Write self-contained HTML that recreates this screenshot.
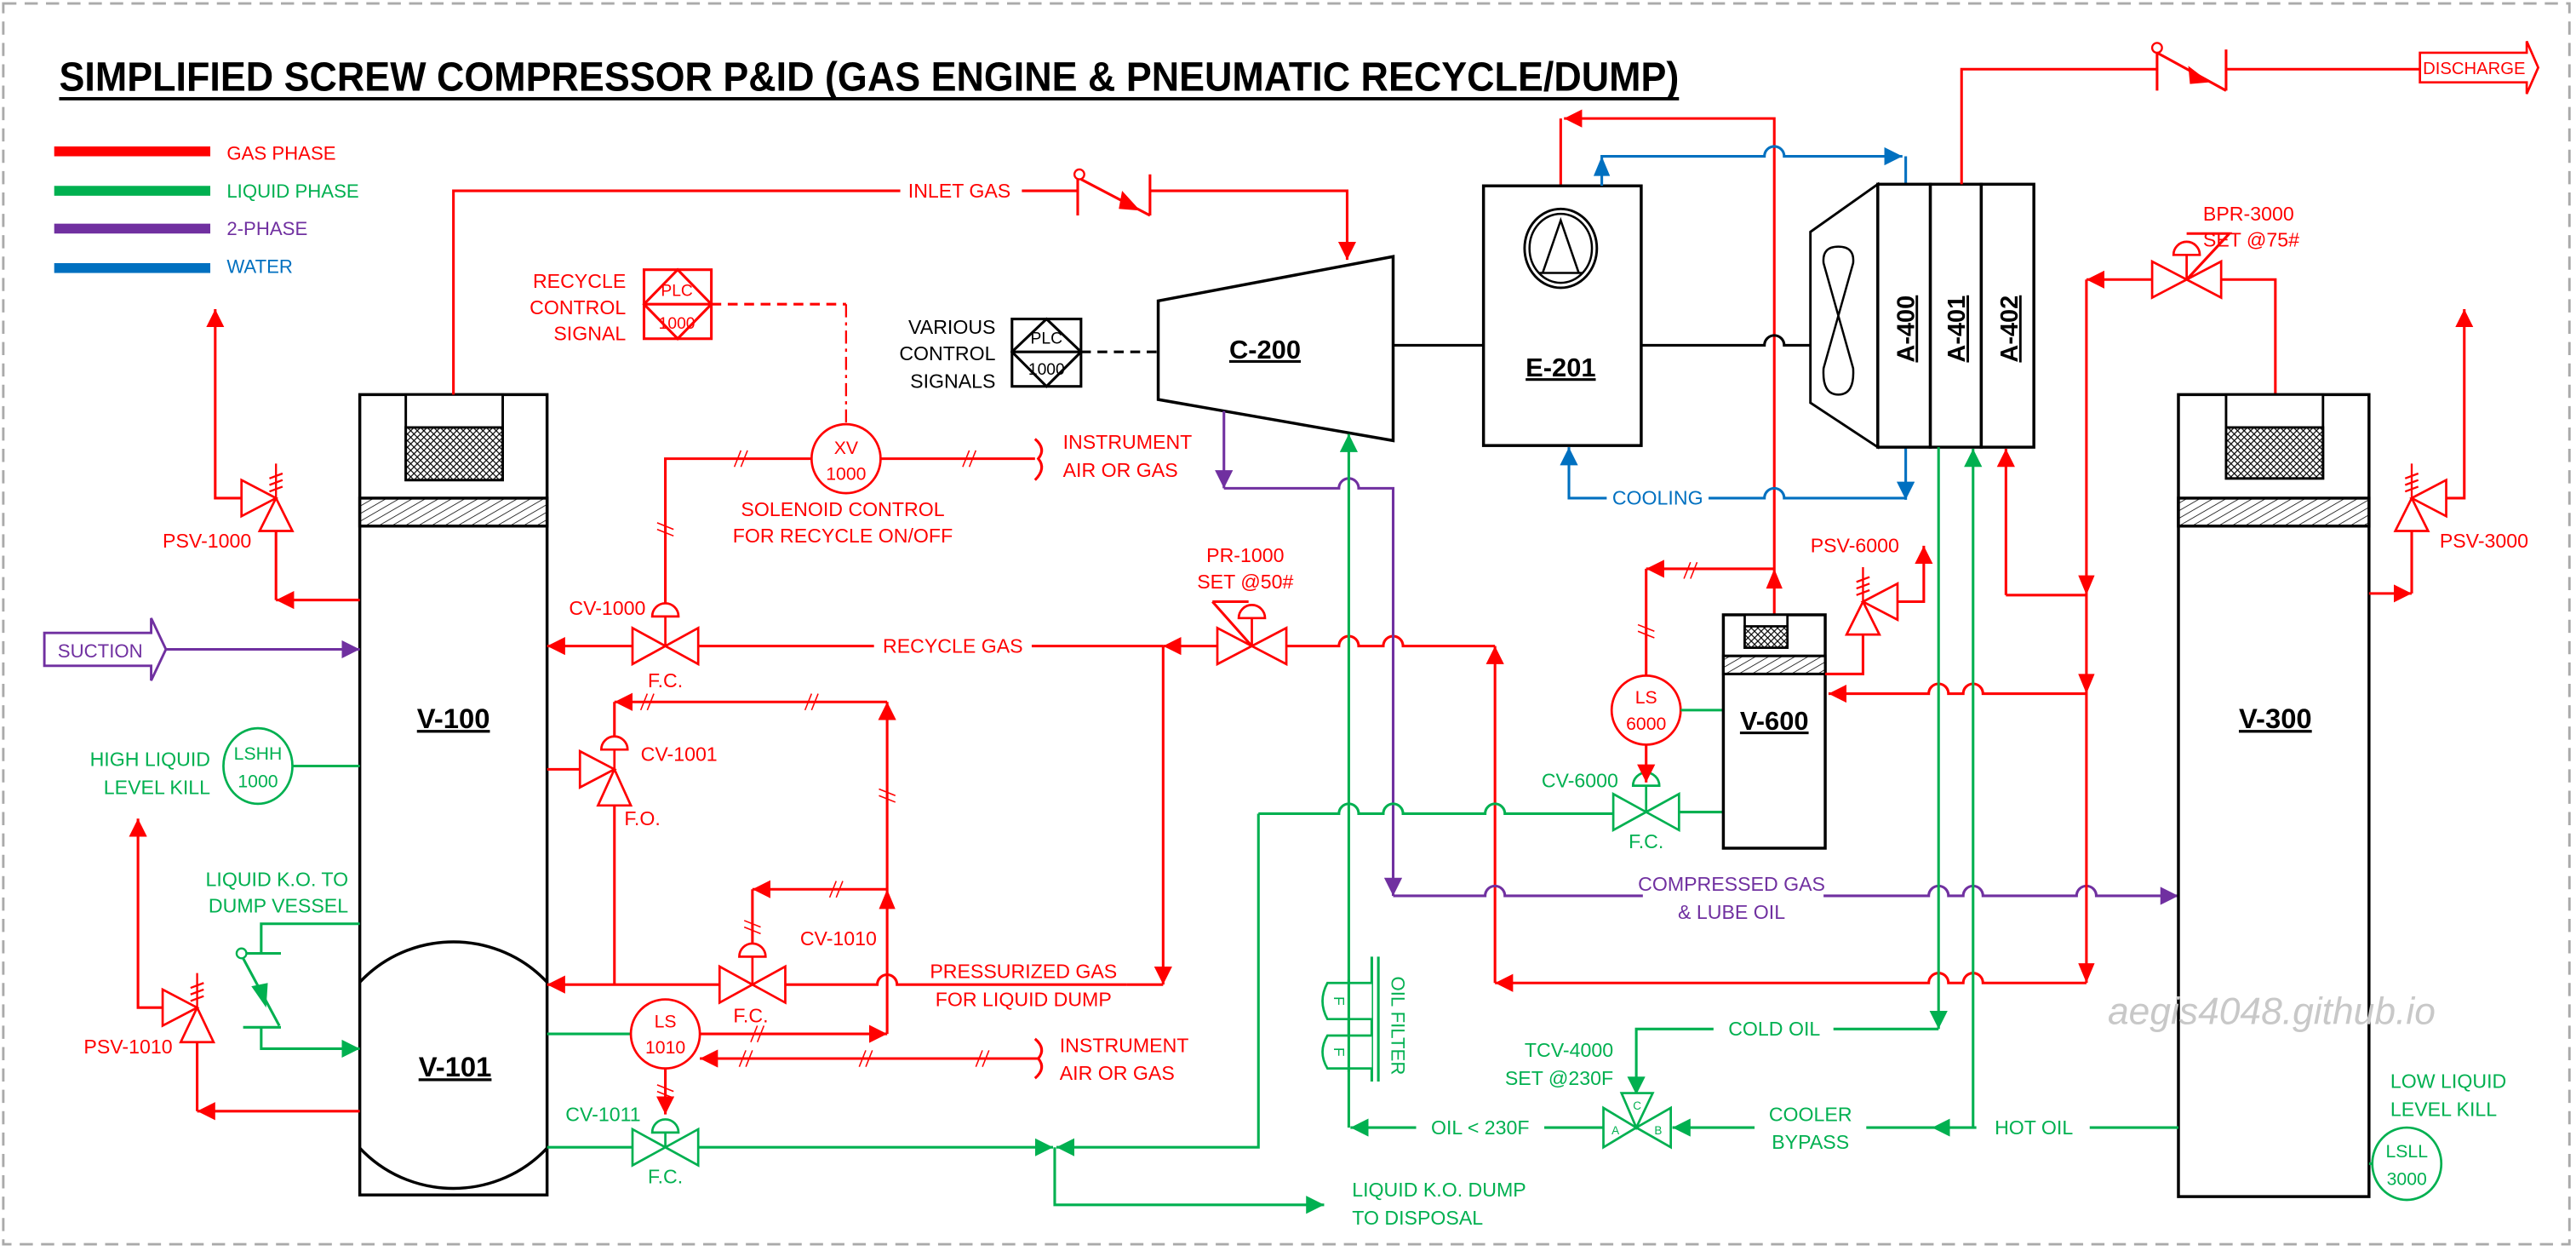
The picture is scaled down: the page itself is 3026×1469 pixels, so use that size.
<!DOCTYPE html>
<html><head><meta charset="utf-8"><style>
html,body{margin:0;padding:0;background:#fff}
svg{display:block}
text{font-family:"Liberation Sans",Arial,sans-serif}
.r{fill:#f00}.g{fill:#00b050}.p{fill:#7030a0}.b{fill:#0070c0}.k{fill:#000}
.lr{stroke:#f00;stroke-width:1.6;fill:none}
.lg{stroke:#00b050;stroke-width:1.6;fill:none}
.lp{stroke:#7030a0;stroke-width:1.6;fill:none}
.lb{stroke:#0070c0;stroke-width:1.6;fill:none}
.lk{stroke:#000;stroke-width:1.6;fill:none}
.vr{stroke:#f00;stroke-width:1.4;fill:#fff}
.vg{stroke:#00b050;stroke-width:1.4;fill:#fff}
.ves{stroke:#000;stroke-width:1.8;fill:#fff}
.lbl{font-weight:bold;text-decoration:underline}
.m{text-anchor:middle}.e{text-anchor:end}
</style></head><body>
<svg width="3026" height="1469" viewBox="0 0 1568 761" xmlns="http://www.w3.org/2000/svg" font-size="12">
<defs>
<marker id="mr" viewBox="0 0 10 10" refX="10" refY="5" markerWidth="11" markerHeight="11" markerUnits="userSpaceOnUse" orient="auto"><path d="M0,0L10,5L0,10z" fill="#f00"/></marker>
<marker id="mg" viewBox="0 0 10 10" refX="10" refY="5" markerWidth="11" markerHeight="11" markerUnits="userSpaceOnUse" orient="auto"><path d="M0,0L10,5L0,10z" fill="#00b050"/></marker>
<marker id="mp" viewBox="0 0 10 10" refX="10" refY="5" markerWidth="11" markerHeight="11" markerUnits="userSpaceOnUse" orient="auto"><path d="M0,0L10,5L0,10z" fill="#7030a0"/></marker>
<marker id="mb" viewBox="0 0 10 10" refX="10" refY="5" markerWidth="11" markerHeight="11" markerUnits="userSpaceOnUse" orient="auto"><path d="M0,0L10,5L0,10z" fill="#0070c0"/></marker>
<pattern id="dh" width="4" height="4" patternUnits="userSpaceOnUse" patternTransform="rotate(60)"><rect width="4" height="4" fill="#fff"/><line x1="0" y1="0" x2="0" y2="4" stroke="#000" stroke-width="0.8"/></pattern>
<pattern id="xh" width="4" height="4" patternUnits="userSpaceOnUse"><rect width="4" height="4" fill="#fff"/><path d="M0,0L4,4M4,0L0,4" stroke="#000" stroke-width="0.6"/></pattern>
<clipPath id="c100"><rect x="219" y="240" width="114" height="487"/></clipPath>
</defs>
<rect width="1568" height="761" fill="#fff"/>
<rect x="2" y="2" width="1562" height="755" fill="none" stroke="#aaa" stroke-width="1.5" stroke-dasharray="8 5"/>

<!-- Title -->
<text x="36" y="55" font-size="25" font-weight="bold" textLength="986" lengthAdjust="spacingAndGlyphs">SIMPLIFIED SCREW COMPRESSOR P&amp;ID  (GAS ENGINE &amp; PNEUMATIC RECYCLE/DUMP)</text>
<line x1="36" y1="60" x2="1022" y2="60" stroke="#000" stroke-width="2"/>

<!-- Legend -->
<rect x="33" y="89" width="95" height="6" fill="#f00"/><text x="138" y="97" class="r" font-size="11.5">GAS PHASE</text>
<rect x="33" y="113" width="95" height="6" fill="#00b050"/><text x="138" y="120" class="g" font-size="11.5">LIQUID PHASE</text>
<rect x="33" y="136" width="95" height="6" fill="#7030a0"/><text x="138" y="143" class="p" font-size="11.5">2-PHASE</text>
<rect x="33" y="160" width="95" height="6" fill="#0070c0"/><text x="138" y="166" class="b" font-size="11.5">WATER</text>

<!-- V-100 / V-101 -->
<rect x="219" y="240" width="114" height="487" class="ves"/>
<rect x="247" y="240" width="59" height="52" fill="#fff" stroke="#000" stroke-width="1.5"/>
<rect x="247" y="260" width="59" height="32" fill="url(#xh)" stroke="#000" stroke-width="1.5"/>
<rect x="219" y="303" width="114" height="17" fill="url(#dh)" stroke="#000" stroke-width="1.8"/>
<ellipse cx="276" cy="648" rx="77" ry="75" fill="none" stroke="#000" stroke-width="1.8" clip-path="url(#c100)"/>
<text x="276" y="443" class="lbl m" font-size="17">V-100</text>
<text x="277" y="655" class="lbl m" font-size="17">V-101</text>

<!-- Inlet gas -->
<path d="M276,240V116H548" class="lr"/>
<text x="584" y="120" class="r m">INLET GAS</text>
<path d="M622,116H656M700,116H820V158" class="lr" marker-end="url(#mr)"/>
<path d="M656,104V131M700,106V131M658,109L700,131" class="lr"/>
<circle cx="657" cy="106" r="3" fill="#fff" stroke="#f00" stroke-width="1.2"/>
<polygon points="683,116 694,128 681,127" fill="#f00"/>

<!-- C-200 -->
<polygon points="705,183 848,156 848,268 705,243" fill="#fff" stroke="#000" stroke-width="1.8"/>
<text x="770" y="218" class="lbl m" font-size="16">C-200</text>
<rect x="616" y="194" width="42" height="41" fill="#fff" stroke="#000" stroke-width="1.6"/>
<path d="M637,194L658,214L637,235L616,214ZM616,214H658" class="lk" stroke-width="1.2"/>
<text x="637" y="209" class="m" font-size="10">PLC</text><text x="637" y="228" class="m" font-size="10">1000</text>
<path d="M658,214H705" stroke="#000" stroke-width="1.6" stroke-dasharray="6 4"/>
<text x="606" y="203" class="e">VARIOUS</text><text x="606" y="219" class="e">CONTROL</text><text x="606" y="236" class="e">SIGNALS</text>

<!-- Recycle PLC -->
<rect x="392" y="164" width="41" height="42" fill="#fff" stroke="#f00" stroke-width="1.6"/>
<path d="M412.5,164L433,185L412.5,206L392,185ZM392,185H433" class="lr" stroke-width="1.2"/>
<text x="412" y="180" class="r m" font-size="10">PLC</text><text x="412" y="200" class="r m" font-size="10">1000</text>
<text x="381" y="175" class="r e">RECYCLE</text><text x="381" y="191" class="r e">CONTROL</text><text x="381" y="207" class="r e">SIGNAL</text>
<path d="M433,185H515" stroke="#f00" stroke-width="1.6" stroke-dasharray="6 4" fill="none"/>
<path d="M515,185V258" stroke="#f00" stroke-width="1.2" stroke-dasharray="8 3 2 3" fill="none"/>

<!-- XV 1000 -->
<circle cx="515" cy="279" r="21" class="vr"/>
<text x="515" y="276" class="r m" font-size="11">XV</text><text x="515" y="292" class="r m" font-size="11">1000</text>
<path d="M494,279H405V375" class="lr"/>
<path d="M536,279H630" class="lr"/>
<path d="M630,267Q637,273 632,279Q637,285 630,292" class="lr" stroke-width="1.2"/>
<text x="647" y="273" class="r">INSTRUMENT</text><text x="647" y="290" class="r">AIR OR GAS</text>
<text x="513" y="314" class="r m">SOLENOID CONTROL</text><text x="513" y="330" class="r m">FOR RECYCLE ON/OFF</text>
<path d="M447,284l4,-10M451,284l4,-10M586,284l4,-10M590,284l4,-10M400,318l10,4M400,322l10,4" stroke="#f00" stroke-width="0.8"/>

<!-- Recycle gas line -->
<path d="M385,393H333" class="lr" marker-end="url(#mr)"/>
<path d="M425,393H532" class="lr"/>
<text x="580" y="397" class="r m">RECYCLE GAS</text>
<path d="M741,393H708" class="lr" marker-end="url(#mr)"/>
<path d="M708,393H628" class="lr"/>
<path d="M708,393V599" class="lr" marker-end="url(#mr)"/>
<path d="M708,599H686" class="lr"/>
<!-- CV-1000 -->
<path d="M385,382L425,404V382L385,404Z" class="vr"/>
<path d="M405,393V375M397,375A8,8 0 0 1 413,375Z" class="vr"/>
<text x="393" y="374" class="r e">CV-1000</text>
<text x="405" y="418" class="r m">F.C.</text>
<!-- PR-1000 -->
<path d="M741,382L783,404V382L741,404Z" class="vr"/>
<path d="M762,393V376M754,376A8,8 0 0 1 770,376Z" class="vr"/>
<path d="M738,366H760M738,366L762,393" class="lr" stroke-width="1.2"/>
<text x="758" y="342" class="r m">PR-1000</text><text x="758" y="358" class="r m">SET @50#</text>
<path d="M783,393H815a6,6 0 0 1 12,0H842a6,6 0 0 1 12,0H910" class="lr"/>
<path d="M910,598V393" class="lr" marker-end="url(#mr)"/>

<!-- CV-1001 angle valve -->
<path d="M333,468H353" class="lr"/>
<polygon points="353,457 374,468 353,479" class="vr"/>
<polygon points="374,468 364,490 384,490" class="vr"/>
<path d="M374,468V456M366,456A8,8 0 0 1 382,456Z" class="vr"/>
<path d="M374,490V599" class="lr"/>
<text x="390" y="463" class="r">CV-1001</text>
<text x="380" y="502" class="r">F.O.</text>
<path d="M540,427H374" class="lr" marker-end="url(#mr)"/>
<path d="M374,427V448" class="lr"/>
<path d="M540,629V427" class="lr" marker-end="url(#mr)"/>
<polygon points="540,541 535,553 545,553" fill="#f00"/>
<path d="M540,541H458" class="lr" marker-end="url(#mr)"/>
<path d="M458,541V574" class="lr"/>
<path d="M390,432l4,-10M394,432l4,-10M490,432l4,-10M494,432l4,-10M535,480l10,4M535,484l10,4M505,546l4,-10M509,546l4,-10M453,560l10,4M453,564l10,4" stroke="#f00" stroke-width="0.8"/>

<!-- Pressurized gas line -->
<path d="M686,599H546a6,6 0 0 0 -12,0H478" class="lr"/>
<path d="M438,599H333" class="lr" marker-end="url(#mr)"/>
<path d="M438,588L478,610V588L438,610Z" class="vr"/>
<path d="M458,599V582M450,582A8,8 0 0 1 466,582Z" class="vr"/>
<text x="487" y="575" class="r">CV-1010</text>
<text x="457" y="622" class="r m">F.C.</text>
<text x="623" y="595" class="r m">PRESSURIZED GAS</text><text x="623" y="612" class="r m">FOR LIQUID DUMP</text>

<!-- LS 1010 -->
<path d="M333,629H384" class="lg"/>
<circle cx="405" cy="629" r="21" class="vr"/>
<text x="405" y="625" class="r m" font-size="11">LS</text><text x="405" y="641" class="r m" font-size="11">1010</text>
<path d="M426,629H540" class="lr" marker-end="url(#mr)"/>
<path d="M632,644H426" class="lr" marker-end="url(#mr)"/>
<path d="M630,632Q637,638 632,644Q637,650 630,656" class="lr" stroke-width="1.2"/>
<text x="645" y="640" class="r">INSTRUMENT</text><text x="645" y="657" class="r">AIR OR GAS</text>
<path d="M405,650V678" class="lr" marker-end="url(#mr)"/>
<path d="M457,634l4,-10M461,634l4,-10M450,649l4,-10M454,649l4,-10M523,649l4,-10M527,649l4,-10M594,649l4,-10M598,649l4,-10M400,660l10,4M400,664l10,4" stroke="#f00" stroke-width="0.8"/>
<!-- CV-1011 -->
<path d="M385,687L425,709V687L385,709Z" class="vg"/>
<path d="M405,698V689M397,689A8,8 0 0 1 413,689Z" class="vg"/>
<text x="390" y="682" class="g e">CV-1011</text>
<text x="405" y="720" class="g m">F.C.</text>
<path d="M333,698H385" class="lg"/>
<path d="M425,698H641" class="lg" marker-end="url(#mg)"/>
<path d="M766,495V698H643" class="lg" marker-end="url(#mg)"/>
<path d="M642,698V733H806" class="lg" marker-end="url(#mg)"/>
<text x="823" y="728" class="g">LIQUID K.O. DUMP</text><text x="823" y="745" class="g">TO DISPOSAL</text>

<!-- LSHH -->
<path d="M178,466H219" class="lg"/>
<ellipse cx="157" cy="466" rx="21" ry="23" class="vg"/>
<text x="157" y="462" class="g m" font-size="11">LSHH</text><text x="157" y="479" class="g m" font-size="11">1000</text>
<text x="128" y="466" class="g e">HIGH LIQUID</text><text x="128" y="483" class="g e">LEVEL KILL</text>

<!-- PSV-1000 -->
<polygon points="147,292 168,303 147,314" class="vr"/>
<polygon points="168,303 158,323 178,323" class="vr"/>
<path d="M168,303V282M164,291l8,-3M164,295l8,-3M164,299l8,-3" stroke="#f00" stroke-width="1.2"/>
<path d="M147,303H131V188" class="lr" marker-end="url(#mr)"/>
<path d="M219,365H168" class="lr" marker-end="url(#mr)"/>
<path d="M168,365V323" class="lr"/>
<text x="153" y="333" class="r e">PSV-1000</text>

<!-- PSV-1010 -->
<polygon points="99,602 120,613 99,624" class="vr"/>
<polygon points="120,613 110,634 130,634" class="vr"/>
<path d="M120,613V592M116,601l8,-3M116,605l8,-3M116,609l8,-3" stroke="#f00" stroke-width="1.2"/>
<path d="M99,613H84V498" class="lr" marker-end="url(#mr)"/>
<path d="M219,676H120" class="lr" marker-end="url(#mr)"/>
<path d="M120,676V634" class="lr"/>
<text x="78" y="641" class="r m">PSV-1010</text>

<!-- Liquid KO dump switch -->
<path d="M219,562H159V580M148,580H171" class="lg"/>
<circle cx="147" cy="580" r="3" fill="#fff" stroke="#00b050" stroke-width="1.2"/>
<path d="M148,583L170,624M148,625H171" class="lg"/>
<polygon points="153,600 162,613 163,598" fill="#00b050"/>
<path d="M159,625V638H219" class="lg" marker-end="url(#mg)"/>
<text x="212" y="539" class="g e">LIQUID K.O. TO</text><text x="212" y="555" class="g e">DUMP VESSEL</text>

<!-- Suction -->
<polygon points="27,385 92,385 92,376 101,395 92,414 92,405 27,405" fill="#fff" stroke="#7030a0" stroke-width="1.5"/>
<text x="61" y="400" class="p m" font-size="11.5">SUCTION</text>
<path d="M101,395H219" class="lp" marker-end="url(#mp)"/>

<!-- Compressor inlet/outlet -->
<path d="M745,250V297" class="lp" marker-end="url(#mp)"/>
<path d="M745,297H815a6,6 0 0 1 12,0H848V545" class="lp" marker-end="url(#mp)"/>
<path d="M848,545H904a6,6 0 0 1 12,0H1000" class="lp"/>
<path d="M1110,545H1174a6,6 0 0 1 12,0H1195a6,6 0 0 1 12,0H1264a6,6 0 0 1 12,0H1326" class="lp" marker-end="url(#mp)"/>
<text x="1054" y="542" class="p m">COMPRESSED GAS</text><text x="1054" y="559" class="p m">&amp; LUBE OIL</text>
<path d="M821,686V264" class="lg" marker-end="url(#mg)"/>

<!-- Green 495 line -->
<path d="M766,495H815a6,6 0 0 1 12,0H842a6,6 0 0 1 12,0H904a6,6 0 0 1 12,0H982" class="lg"/>
<path d="M982,483L1022,505V483L982,505Z" class="vg"/>
<path d="M1002,494V478M994,478A8,8 0 0 1 1010,478Z" class="vg"/>
<path d="M1022,494H1049" class="lg"/>
<text x="985" y="479" class="g e">CV-6000</text>
<text x="1002" y="516" class="g m">F.C.</text>

<!-- LS 6000 -->
<circle cx="1002" cy="432" r="21" class="vr"/>
<text x="1002" y="428" class="r m" font-size="11">LS</text><text x="1002" y="444" class="r m" font-size="11">6000</text>
<path d="M1023,432H1049" class="lg"/>
<path d="M1002,453V476" class="lr" marker-end="url(#mr)"/>
<path d="M1080,346H1002" class="lr" marker-end="url(#mr)"/>
<path d="M1002,346V411" class="lr"/>
<path d="M1025,352l4,-10M1029,352l4,-10M997,380l10,4M997,384l10,4" stroke="#f00" stroke-width="0.8"/>

<!-- Red 1080 -->
<path d="M1080,374V72H952" class="lr" marker-end="url(#mr)"/>
<path d="M950,72V113" class="lr"/>
<polygon points="1080,346 1075,358 1085,358" fill="#f00"/>

<!-- E-201 -->
<rect x="903" y="113" width="96" height="158" class="ves"/>
<ellipse cx="950" cy="151" rx="22" ry="24" fill="none" stroke="#000" stroke-width="1.5"/>
<ellipse cx="950" cy="151" rx="19" ry="21" fill="none" stroke="#000" stroke-width="1.3"/>
<path d="M950,134L939,166H961ZM937,166H963" fill="none" stroke="#000" stroke-width="1.3"/>
<text x="950" y="229" class="lbl m" font-size="16">E-201</text>
<path d="M848,210H903" class="lk"/>
<path d="M999,210H1074a6,6 0 0 1 12,0H1102" class="lk"/>

<!-- Blue -->
<path d="M975,113V95H1074a6,6 0 0 1 12,0H1158" class="lb" marker-end="url(#mb)"/>
<path d="M1160,95V112" class="lb"/>
<polygon points="975,95 970,107 980,107" fill="#0070c0"/>
<path d="M1160,272V304" class="lb" marker-end="url(#mb)"/>
<path d="M1160,303H1086a6,6 0 0 0 -12,0H1040" class="lb"/>
<text x="1009" y="307" class="b m">COOLING</text>
<path d="M978,303H955V272" class="lb" marker-end="url(#mb)"/>

<!-- A-400 cooler -->
<polygon points="1143,112 1102,141 1102,245 1143,272" fill="#fff" stroke="#000" stroke-width="1.5"/>
<path d="M1119,192L1110,160Q1109,150 1119,150Q1129,150 1128,160ZM1119,192L1110,224Q1109,240 1119,240Q1129,240 1128,224Z" fill="none" stroke="#000" stroke-width="1.3"/>
<rect x="1143" y="112" width="32" height="160" class="ves"/>
<rect x="1175" y="112" width="31" height="160" class="ves"/>
<rect x="1206" y="112" width="32" height="160" class="ves"/>
<text transform="translate(1165,200) rotate(-90)" class="m" font-size="15" font-weight="bold" text-decoration="underline">A-400</text>
<text transform="translate(1196,200) rotate(-90)" class="m" font-size="15" font-weight="bold" text-decoration="underline">A-401</text>
<text transform="translate(1228,200) rotate(-90)" class="m" font-size="15" font-weight="bold" text-decoration="underline">A-402</text>

<!-- Discharge -->
<path d="M1194,112V42H1313M1355,42H1473" class="lr"/>
<path d="M1313,30V55M1355,30V55M1313,32L1355,55" class="lr"/>
<circle cx="1313" cy="29" r="3" fill="#fff" stroke="#f00" stroke-width="1.2"/>
<polygon points="1332,40 1345,50 1333,51" fill="#f00"/>
<polygon points="1473,32 1538,32 1538,25 1545,41 1538,57 1538,50 1473,50" fill="#fff" stroke="#f00" stroke-width="1.4"/>
<text x="1506" y="45" class="r m" font-size="10.5">DISCHARGE</text>

<!-- BPR-3000 -->
<path d="M1310,159L1352,181V159L1310,181Z" class="vr"/>
<path d="M1331,170V155M1323,155A8,8 0 0 1 1339,155Z" class="vr"/>
<path d="M1331,142H1357L1331,170" class="lr" stroke-width="1.2"/>
<path d="M1310,170H1270" class="lr" marker-end="url(#mr)"/>
<path d="M1352,170H1385V240" class="lr"/>
<text x="1341" y="134" class="r">BPR-3000</text><text x="1341" y="150" class="r">SET @75#</text>

<!-- Red 1270 network -->
<path d="M1270,170V598" class="lr"/>
<polygon points="1270,362 1265,350 1275,350" fill="#f00"/>
<polygon points="1270,422 1265,410 1275,410" fill="#f00"/>
<polygon points="1270,598 1265,586 1275,586" fill="#f00"/>
<path d="M1221,362V273" class="lr" marker-end="url(#mr)"/>
<path d="M1221,362H1270" class="lr"/>
<path d="M1270,422H1207a6,6 0 0 0 -12,0H1186a6,6 0 0 0 -12,0H1113" class="lr" marker-end="url(#mr)"/>
<path d="M1270,598H1207a6,6 0 0 0 -12,0H1186a6,6 0 0 0 -12,0H910" class="lr" marker-end="url(#mr)"/>

<!-- V-600 -->
<rect x="1049" y="374" width="62" height="142" class="ves"/>
<rect x="1062" y="374" width="26" height="20" fill="#fff" stroke="#000" stroke-width="1.4"/>
<rect x="1062" y="381" width="26" height="13" fill="url(#xh)" stroke="#000" stroke-width="1.4"/>
<rect x="1049" y="399" width="62" height="11" fill="url(#dh)" stroke="#000" stroke-width="1.6"/>
<text x="1080" y="444" class="lbl m" font-size="16">V-600</text>

<!-- PSV-6000 -->
<polygon points="1155,355 1134,366 1155,377" class="vr"/>
<polygon points="1134,366 1124,386 1144,386" class="vr"/>
<path d="M1134,366V345M1130,354l8,-3M1130,358l8,-3M1130,362l8,-3" stroke="#f00" stroke-width="1.2"/>
<path d="M1155,366H1171V332" class="lr" marker-end="url(#mr)"/>
<path d="M1134,386V410H1111" class="lr"/>
<text x="1129" y="336" class="r m">PSV-6000</text>

<!-- V-300 -->
<rect x="1326" y="240" width="116" height="488" class="ves"/>
<rect x="1355" y="240" width="59" height="51" fill="#fff" stroke="#000" stroke-width="1.5"/>
<rect x="1355" y="260" width="59" height="31" fill="url(#xh)" stroke="#000" stroke-width="1.5"/>
<rect x="1326" y="303" width="116" height="17" fill="url(#dh)" stroke="#000" stroke-width="1.8"/>
<text x="1385" y="443" class="lbl m" font-size="17">V-300</text>

<!-- PSV-3000 -->
<polygon points="1489,292 1468,303 1489,314" class="vr"/>
<polygon points="1468,303 1458,323 1478,323" class="vr"/>
<path d="M1468,303V282M1464,291l8,-3M1464,295l8,-3M1464,299l8,-3" stroke="#f00" stroke-width="1.2"/>
<path d="M1489,303H1500V188" class="lr" marker-end="url(#mr)"/>
<path d="M1442,361H1468" class="lr" marker-end="url(#mr)"/>
<path d="M1468,361V323" class="lr"/>
<text x="1485" y="333" class="r">PSV-3000</text>

<!-- LSLL -->
<path d="M1442,708H1444" class="lg"/>
<ellipse cx="1465" cy="708" rx="21" ry="22" class="vg"/>
<text x="1465" y="704" class="g m" font-size="11">LSLL</text><text x="1465" y="721" class="g m" font-size="11">3000</text>
<text x="1455" y="662" class="g">LOW LIQUID</text><text x="1455" y="679" class="g">LEVEL KILL</text>

<!-- Oil loop -->
<path d="M1180,272V626" class="lg" marker-end="url(#mg)"/>
<path d="M1180,626H1116" class="lg"/>
<text x="1080" y="630" class="g m">COLD OIL</text>
<path d="M1043,626H996V666" class="lg" marker-end="url(#mg)"/>
<path d="M1201,686V273" class="lg" marker-end="url(#mg)"/>
<path d="M1326,686H1272" class="lg"/>
<text x="1238" y="690" class="g m">HOT OIL</text>
<path d="M1203,686H1176" class="lg" marker-end="url(#mg)"/>
<path d="M1176,686H1136" class="lg"/>
<text x="1102" y="682" class="g m">COOLER</text><text x="1102" y="699" class="g m">BYPASS</text>
<path d="M1068,686H1018" class="lg" marker-end="url(#mg)"/>
<!-- TCV -->
<polygon points="976,674 996,686 976,698" class="vg"/>
<polygon points="1017,674 996,686 1017,698" class="vg"/>
<polygon points="987,665 1006,665 996,686" class="vg"/>
<text x="981" y="690" class="g" font-size="7">A</text><text x="1007" y="690" class="g" font-size="7">B</text><text x="994" y="675" class="g" font-size="7">C</text>
<text x="982" y="643" class="g e">TCV-4000</text><text x="982" y="660" class="g e">SET @230F</text>
<path d="M976,686H940" class="lg"/>
<text x="901" y="690" class="g m">OIL &lt; 230F</text>
<path d="M862,686H822" class="lg" marker-end="url(#mg)"/>

<!-- Oil filter -->
<path d="M835,582V658M839,582V658" class="lg" stroke-width="1.2"/>
<path d="M835,598H808Q802,609 808,620H835M835,630H808Q802,640 808,650H835" fill="#fff" stroke="#00b050" stroke-width="1.4"/>
<path d="M821,596V652" class="lg"/>
<text transform="translate(812,609) rotate(90)" class="g m" font-size="9">F</text>
<text transform="translate(812,640) rotate(90)" class="g m" font-size="9">F</text>
<text transform="translate(847,624) rotate(90)" class="g m" font-size="11.5">OIL FILTER</text>

<!-- Watermark -->
<text x="1283" y="623" font-size="23" font-style="italic" fill="#c8c8c8">aegis4048.github.io</text>
</svg>
</body></html>
